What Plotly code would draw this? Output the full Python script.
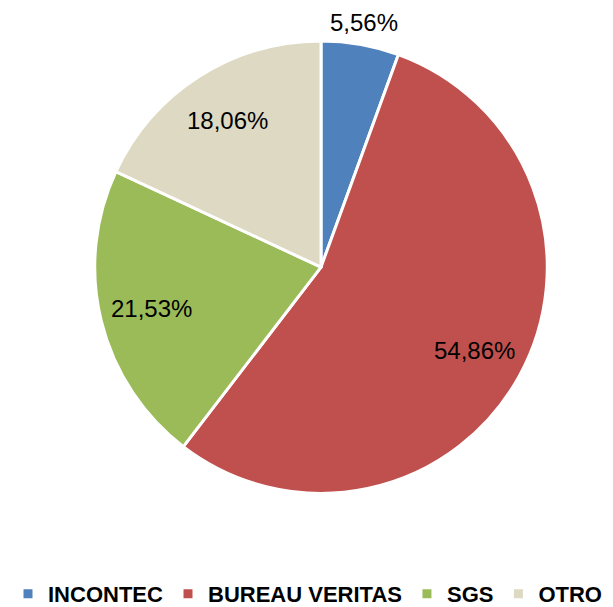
import math
import plotly.graph_objects as go

labels = ["INCONTEC", "BUREAU VERITAS", "SGS", "OTRO"]
values = [5.56, 54.86, 21.53, 18.06]
colors = ["#4F81BD", "#C0504D", "#9BBB59", "#DDD9C3"]
label_radius = [1.10, 0.77, 0.77, 0.77]  # fraction of pie radius where each label sits

W, H = 613, 607
CX, CY, R = 313, 260, 227  # pie centre and radius in figure pixels (page body adds 8px offset)

fig = go.Figure(go.Pie(
    labels=labels, values=values, sort=False, direction="clockwise", rotation=0,
    marker=dict(colors=colors, line=dict(color="white", width=3)),
    textinfo="none",
    domain=dict(x=[(CX - R) / W, (CX + R) / W], y=[1 - (CY + R) / H, 1 - (CY - R) / H]),
    hoverinfo="label+percent",
))

total = sum(values)
cum = 0.0
for v, lr in zip(values, label_radius):
    mid = (cum + v / 2) / total * 2 * math.pi
    cum += v
    px = CX + lr * R * math.sin(mid)
    py = CY - lr * R * math.cos(mid)
    fig.add_annotation(
        x=px / W, y=1 - py / H, xref="paper", yref="paper",
        text=f"{v:.2f}".replace(".", ",") + "%", showarrow=False,
        font=dict(family="Liberation Sans", size=24, color="black"),
        xanchor="center", yanchor="middle",
    )

fig.update_layout(
    width=W, height=H, separators=",.",
    margin=dict(l=0, r=0, t=0, b=0),
    paper_bgcolor="white", plot_bgcolor="white",
    showlegend=True,
    legend=dict(orientation="h", x=0.484, xanchor="center", y=1 - 588 / H, yanchor="middle",
                font=dict(family="Liberation Sans", size=22, color="black", weight="bold"),
                itemwidth=30, traceorder="normal"),
)
fig.write_html("out.html")
